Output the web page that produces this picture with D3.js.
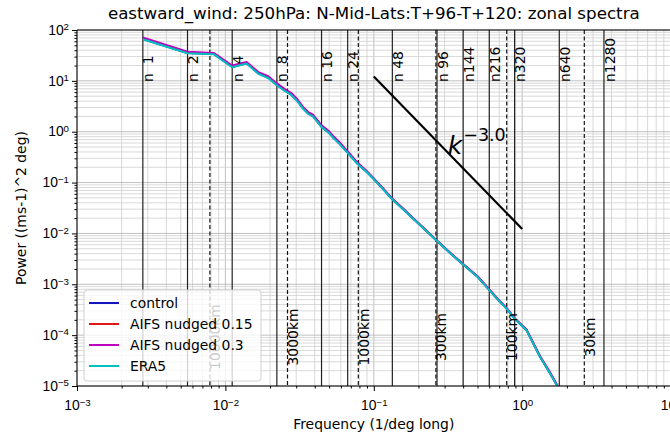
<!DOCTYPE html>
<html>
<head>
<meta charset="utf-8">
<script src="https://cdn.jsdelivr.net/npm/d3@7"></script>
<style>
  body { margin: 0; background: #fff; }
  svg { font-family: "DejaVu Sans", sans-serif; }
  .grid line { stroke: #c8c8c8; stroke-width: 0.8; }
  .axis path, .axis line { stroke: #000; }
  .axis text { font-size: 13.9px; fill: #000; }
</style>
</head>
<body>
<div id="chart"></div>
<script>
//
// Data
//
var wavenumbers = [1, 2, 3, 4, 5, 6, 7, 8, 9, 10, 11, 12, 13, 14, 15, 16, 18, 19, 21, 23, 25, 28, 32, 36, 40,
                   48, 56, 64, 80, 96, 120, 144, 180, 216, 250, 283, 320, 385, 473, 553, 620, 660];

var controlVals = [66.5, 35.3, 33.8, 18.7, 22.2, 14.0, 11.5, 8.3, 6.5, 5.35, 4.05, 2.88, 2.28, 2.02, 1.58, 1.24, 0.95, 0.79, 0.595, 0.445, 0.338,
                   0.234, 0.166, 0.117, 0.0845, 0.0468, 0.0312, 0.0216, 0.01175, 0.00712, 0.00391, 0.00246, 0.00141, 0.000775, 0.000483, 0.000332,
                   0.000211, 0.000126, 3.82e-5, 1.8e-5, 1.0e-5, 7.0e-6];
var nudged015Vals = [68, 36.2, 34.5, 19.2, 22.8, 14.3, 11.8, 8.5, 6.65, 5.5, 4.15, 2.95, 2.34, 2.07, 1.62, 1.27, 0.98, 0.81, 0.61, 0.455, 0.345,
                   0.239, 0.169, 0.119, 0.0858, 0.0473, 0.0315, 0.0218, 0.0118, 0.00716, 0.00393, 0.00247, 0.00142, 0.00078, 0.000486, 0.000335,
                   0.000213, 0.000127, 3.88e-5, 1.84e-5, 1.02e-5, 7.2e-6];
var nudged03Vals = [71, 37.5, 35.5, 20, 23.6, 14.9, 12.3, 8.9, 6.95, 5.75, 4.35, 3.08, 2.44, 2.16, 1.69, 1.33, 1.02, 0.845, 0.635, 0.472, 0.357,
                   0.246, 0.173, 0.121, 0.0872, 0.0481, 0.0319, 0.0221, 0.0119, 0.00722, 0.00397, 0.0025, 0.00144, 0.00079, 0.00049, 0.000339,
                   0.000216, 0.000129, 3.95e-5, 1.88e-5, 1.05e-5, 7.4e-6];
var era5Vals = [66, 35, 33.5, 18.5, 22, 13.8, 11.4, 8.2, 6.4, 5.3, 4.0, 2.85, 2.25, 2.0, 1.56, 1.23, 0.94, 0.78, 0.59, 0.44, 0.335,
                   0.232, 0.165, 0.116, 0.084, 0.0465, 0.031, 0.0215, 0.0117, 0.0071, 0.0039, 0.00245, 0.0014, 0.00077, 0.00048, 0.00033,
                   0.00021, 0.000125, 3.8e-5, 1.8e-5, 1.0e-5, 7.0e-6];

var seriesNames  = ["control", "AIFS nudged 0.15", "AIFS nudged 0.3", "ERA5"];
var seriesColors = ["#1515c0", "#e01818", "#bf00bf", "#00bfbf"];

// resolution markers (wavenumber) and length-scale markers (km)
var nWaves  = [1, 2, 4, 8, 16, 24, 48, 96, 144, 216, 320, 640, 1280];
var nLabels = ["n  1", "n  2", "n  4", "n  8", "n 16", "n 24", "n 48", "n 96", "n144", "n216", "n320", "n640", "n1280"];
var kmScales = [10000, 3000, 1000, 300, 100, 30];
var kmLabels = ["10000km", "3000km", "1000km", "300km", "100km", "30km"];

// k^-3 reference line end points
var refFreq = [0.1, 1.0];
var refPow  = [12.2, 0.0122];

var xDecades = [-3, -2, -1, 0, 1];
var yDecades = [-5, -4, -3, -2, -1, 0, 1, 2];

var degPerWave = 360;      // frequency = wavenumber / 360
var kmPerDeg = 78.63;      // ~45N

//
// Layout
//
var W = 670, H = 435,
    m = { left: 77, right: 670.6, top: 30, bottom: 386 },
    fs = 13.9;

var svg = d3.select("#chart").append("svg")
    .attr("width", W)
    .attr("height", H);

var x = d3.scaleLog().domain([1e-3, 1e1]).range([m.left, m.right]);
var y = d3.scaleLog().domain([1e-5, 1e2]).range([m.bottom, m.top]);

svg.append("defs").append("clipPath").attr("id", "clip")
  .append("rect")
    .attr("x", m.left).attr("y", m.top)
    .attr("width", m.right - m.left).attr("height", m.bottom - m.top);

// minor + major tick values
function logTicks(decades) {
    var t = [];
    decades.forEach(function(d, i) {
        if (i == decades.length - 1) { t.push(Math.pow(10, d)); return; }
        for (var k = 1; k < 10; k++) t.push(k * Math.pow(10, d));
    });
    return t;
}
var xMinor = logTicks(xDecades), yMinor = logTicks(yDecades);
function isMajor(d) {
    var l = Math.log10(d);
    return Math.abs(l - Math.round(l)) < 1e-6;
}

// grid
var grid = svg.append("g").attr("class", "grid");
grid.selectAll(".gx").data(xMinor).enter().append("line")
    .attr("class", "gx")
    .attr("x1", function(d) { return x(d); }).attr("x2", function(d) { return x(d); })
    .attr("y1", m.top).attr("y2", m.bottom)
    .style("stroke", function(d) { return isMajor(d) ? "#b0b0b0" : "#cfcfcf"; });
grid.selectAll(".gy").data(yMinor).enter().append("line")
    .attr("class", "gy")
    .attr("y1", function(d) { return y(d); }).attr("y2", function(d) { return y(d); })
    .attr("x1", m.left).attr("x2", m.right)
    .style("stroke", function(d) { return isMajor(d) ? "#b0b0b0" : "#cfcfcf"; });

var plot = svg.append("g").attr("clip-path", "url(#clip)");

// n lines
plot.selectAll(".nline").data(nWaves).enter().append("line")
    .attr("x1", function(d) { return x(d / degPerWave); })
    .attr("x2", function(d) { return x(d / degPerWave); })
    .attr("y1", m.top).attr("y2", m.bottom)
    .attr("stroke", "#222").attr("stroke-width", 1.2);

svg.selectAll(".nlab").data(nWaves).enter().append("text")
    .attr("transform", function(d) { return "translate(" + x(d / degPerWave) + ",82) rotate(-90)"; })
    .attr("dy", "0.76em")
    .attr("font-size", fs)
    .style("white-space", "pre")
    .text(function(d, i) { return nLabels[i]; });

// km lines
plot.selectAll(".kline").data(kmScales).enter().append("line")
    .attr("x1", function(d) { return x(kmPerDeg / d); })
    .attr("x2", function(d) { return x(kmPerDeg / d); })
    .attr("y1", m.top).attr("y2", m.bottom)
    .attr("stroke", "#111").attr("stroke-width", 1.2)
    .attr("stroke-dasharray", "4,2.5");

svg.selectAll(".klab").data(kmScales).enter().append("text")
    .attr("transform", function(d) { return "translate(" + x(kmPerDeg / d) + ",337) rotate(-90)"; })
    .attr("dy", "0.76em")
    .attr("text-anchor", "middle")
    .attr("font-size", fs)
    .text(function(d, i) { return kmLabels[i]; });

// spectra
var allVals = [controlVals, nudged015Vals, nudged03Vals, era5Vals];
var line = d3.line()
    .x(function(d) { return x(d[0] / degPerWave); })
    .y(function(d) { return y(d[1]); });

allVals.forEach(function(vals, i) {
    plot.append("path")
        .datum(wavenumbers.map(function(k, j) { return [k, vals[j]]; }))
        .attr("fill", "none")
        .attr("stroke", seriesColors[i])
        .attr("stroke-width", 2)
        .attr("stroke-linejoin", "round")
        .attr("d", line);
});

// k^-3 line
plot.append("line")
    .attr("x1", x(refFreq[0])).attr("y1", y(refPow[0]))
    .attr("x2", x(refFreq[1])).attr("y2", y(refPow[1]))
    .attr("stroke", "#000").attr("stroke-width", 2.2);

var kt = svg.append("text")
    .attr("x", x(0.315)).attr("y", y(0.37))
    .attr("font-size", 25);
kt.append("tspan").attr("font-style", "italic").text("k");
kt.append("tspan").attr("font-size", 17.5).attr("dy", -13).attr("dx", 1).text("\u22123.0");

// axes
function supLabel(sel, anchor) {
    sel.selectAll(".tick text").each(function(d) {
        var t = d3.select(this).text("");
        if (!isMajor(d)) return;
        var e = Math.round(Math.log10(d));
        t.attr("text-anchor", anchor);
        t.append("tspan").text("10");
        t.append("tspan").attr("dy", "-0.45em").attr("font-size", 9.7)
            .text(e < 0 ? "\u2212" + (-e) : "" + e);
    });
}

var xAxis = svg.append("g").attr("class", "axis")
    .attr("transform", "translate(0," + m.bottom + ")")
    .call(d3.axisBottom(x).tickValues(xMinor).tickSize(2.5).tickPadding(7));
xAxis.selectAll(".tick").filter(isMajor).select("line").attr("y2", 5);
xAxis.select(".domain").attr("d", "M" + m.left + ",0H" + m.right);
supLabel(xAxis, "middle");
xAxis.selectAll(".tick text").attr("dy", "1.05em");

var yAxis = svg.append("g").attr("class", "axis")
    .attr("transform", "translate(" + m.left + ",0)")
    .call(d3.axisLeft(y).tickValues(yMinor).tickSize(2.5).tickPadding(8));
yAxis.selectAll(".tick").filter(isMajor).select("line").attr("x2", -5);
yAxis.select(".domain").attr("d", "M0," + m.top + "V" + m.bottom);
supLabel(yAxis, "end");
yAxis.selectAll(".tick text").attr("dy", "0.3em").attr("x", -8);

// top + right spines
svg.append("line")
    .attr("x1", m.left).attr("x2", m.right).attr("y1", m.top).attr("y2", m.top)
    .attr("stroke", "#000");
svg.append("line")
    .attr("x1", m.right).attr("x2", m.right).attr("y1", m.top).attr("y2", m.bottom)
    .attr("stroke", "#000");

// titles
svg.append("text")
    .attr("x", (m.left + m.right) / 2).attr("y", 19)
    .attr("text-anchor", "middle").attr("font-size", 16.7)
    .text("eastward_wind: 250hPa: N-Mid-Lats:T+96-T+120: zonal spectra");

svg.append("text")
    .attr("x", (m.left + m.right) / 2).attr("y", 429)
    .attr("text-anchor", "middle").attr("font-size", fs)
    .text("Frequency (1/deg long)");

svg.append("text")
    .attr("transform", "translate(26," + ((m.top + m.bottom) / 2) + ") rotate(-90)")
    .attr("text-anchor", "middle").attr("font-size", fs)
    .text("Power ((ms-1)^2 deg)");

// legend
var lg = svg.append("g").attr("transform", "translate(84,290)");
lg.append("rect")
    .attr("width", 177).attr("height", 91).attr("rx", 3)
    .attr("fill", "#fff").attr("fill-opacity", 0.8)
    .attr("stroke", "#d0d0d0");
seriesNames.forEach(function(name, i) {
    var yy = 13 + i * 21;
    lg.append("line")
        .attr("x1", 5).attr("x2", 35).attr("y1", yy).attr("y2", yy)
        .attr("stroke", seriesColors[i]).attr("stroke-width", 2);
    lg.append("text")
        .attr("x", 46).attr("y", yy).attr("dy", "0.35em")
        .attr("font-size", fs)
        .text(name);
});
</script>
</body>
</html>
